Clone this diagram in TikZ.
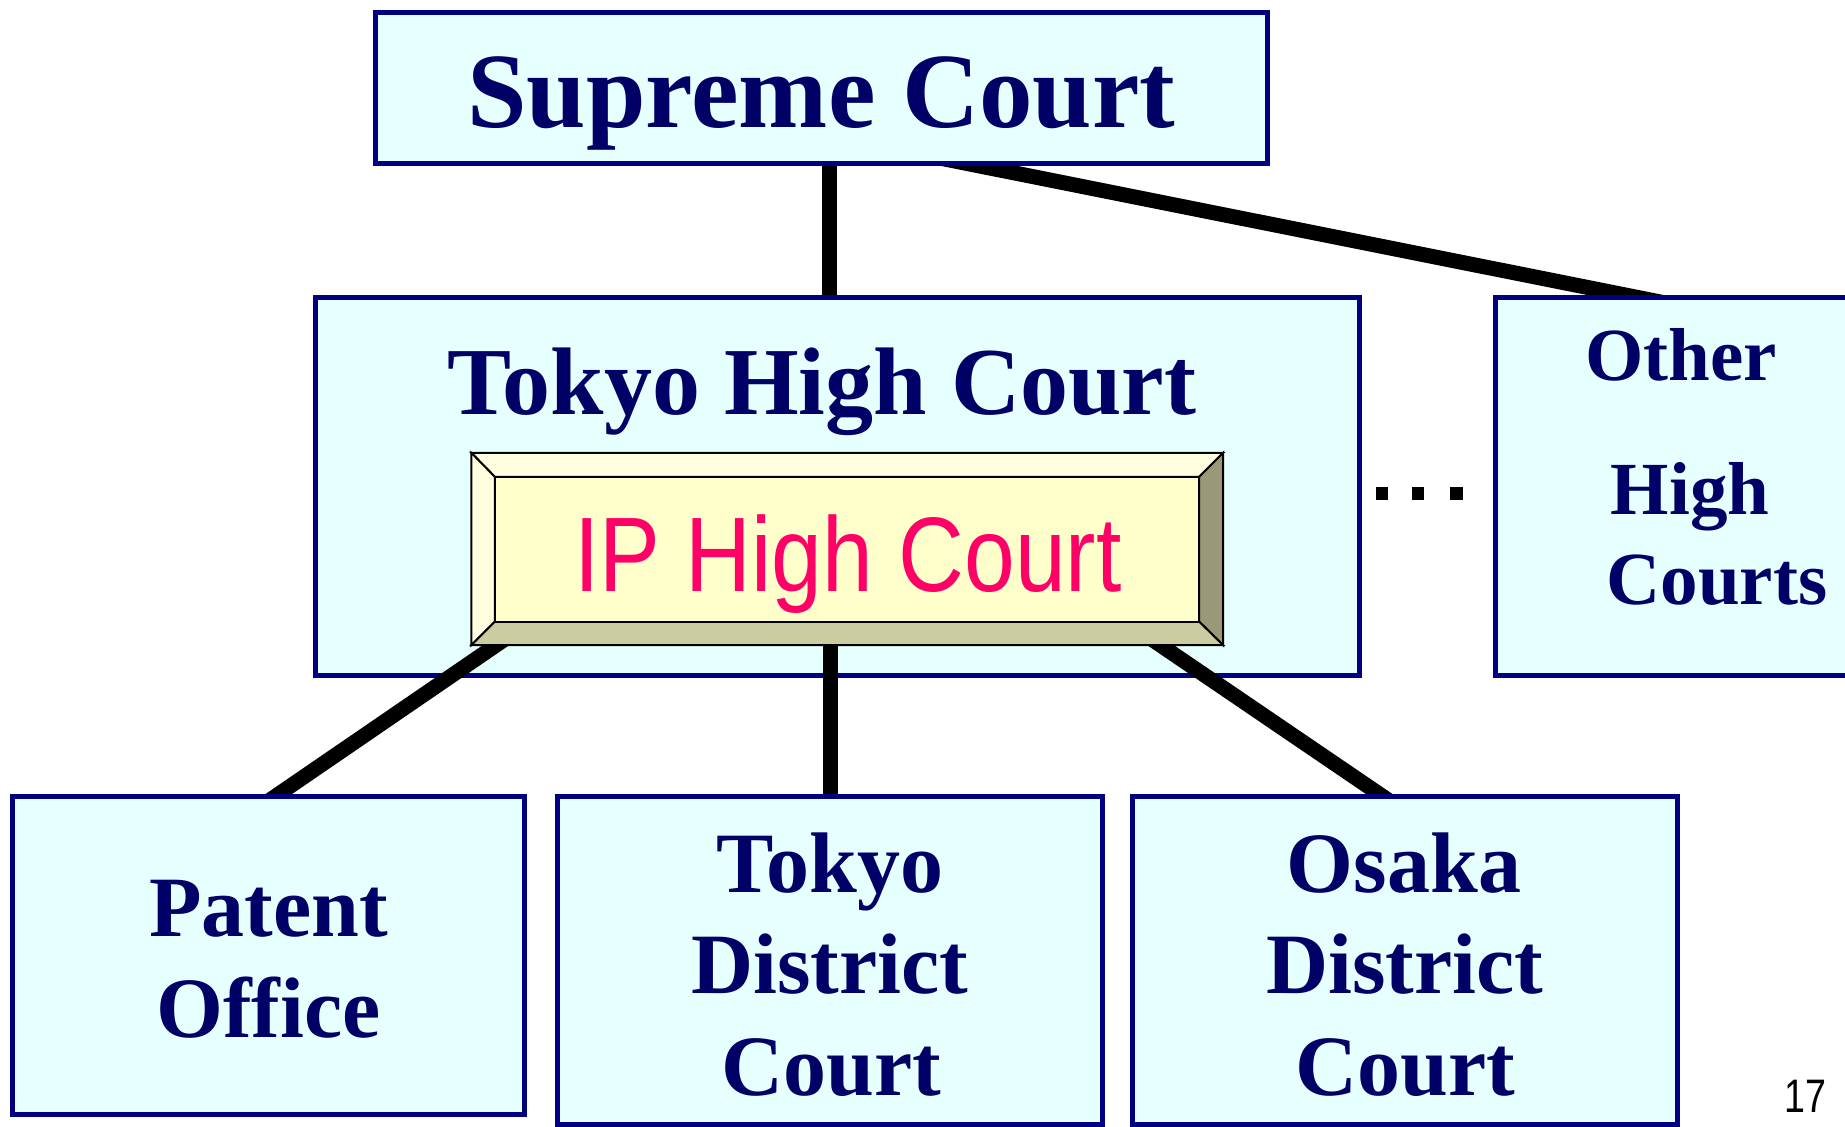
\documentclass[tikz,border=0pt]{standalone}
\usepackage{fontspec}
\setmainfont{Liberation Serif}
\newfontfamily\ipfont{Liberation Sans}
\usetikzlibrary{calc}
\definecolor{navyline}{RGB}{0,0,128}
\definecolor{navytext}{RGB}{0,0,102}
\definecolor{boxfill}{RGB}{230,255,255}
\definecolor{ipface}{RGB}{255,255,204}
\definecolor{iplight}{RGB}{255,255,224}
\definecolor{ipdark}{RGB}{153,153,119}
\definecolor{ipbottom}{RGB}{204,204,163}
\definecolor{ippink}{RGB}{255,0,102}
\pgfdeclarelayer{uplines}
\pgfdeclarelayer{thlayer}
\pgfdeclarelayer{lowlines}
\pgfsetlayers{uplines,thlayer,lowlines,main}
\begin{document}
\begin{tikzpicture}[x=1pt,y=-1pt,
  courtbox/.style={draw=navyline, line width=5pt, fill=boxfill, rectangle, inner sep=0pt},
  conn/.style={draw=black, line width=15pt},
  lbl/.style={anchor=base, inner sep=0pt, text=navytext, font=\bfseries\fontsize{86}{90}\selectfont},
  dotsq/.style={fill=black, minimum size=12.5pt, inner sep=0pt, rectangle},
  bevel/.style={draw=black, line width=2pt, line join=miter}]
\useasboundingbox (0,0) rectangle (1845,1127);
\begin{pgfonlayer}{uplines}
\fill[white] (0,0) rectangle (1845,1127);
\end{pgfonlayer}

% boxes
\node[courtbox, minimum width=892pt, minimum height=151pt] (sc) at (821.5,88) {};
\begin{pgfonlayer}{thlayer}
\node[courtbox, minimum width=1044pt, minimum height=378pt] (th) at (837.5,486.5) {};
\end{pgfonlayer}
\node[courtbox, minimum width=404.5pt, minimum height=378pt] (oh) at (1697.75,486.5) {};
\node[courtbox, minimum width=512pt, minimum height=318pt] (po) at (268.5,955.5) {};
\node[courtbox, minimum width=545pt, minimum height=328pt] (td) at (830,960.5) {};
\node[courtbox, minimum width=545pt, minimum height=328pt] (od) at (1405,960.5) {};

% IP High Court bevelled box
\node[minimum width=751.5pt, minimum height=192pt, inner sep=0pt] (ip) at (847.25,549) {};
\coordinate (i1) at ($(ip.north west)+(23.5,24)$);
\coordinate (i2) at ($(ip.north east)+(-24,24)$);
\coordinate (i3) at ($(ip.south east)+(-24,-23.5)$);
\coordinate (i4) at ($(ip.south west)+(23.5,-23.5)$);
\filldraw[bevel, fill=iplight] (ip.north west) -- (ip.north east) -- (i2) -- (i1) -- cycle;
\filldraw[bevel, fill=iplight] (ip.north west) -- (i1) -- (i4) -- (ip.south west) -- cycle;
\filldraw[bevel, fill=ipdark] (ip.north east) -- (ip.south east) -- (i3) -- (i2) -- cycle;
\filldraw[bevel, fill=ipbottom] (ip.south west) -- (i4) -- (i3) -- (ip.south east) -- cycle;
\filldraw[bevel, fill=ipface] (i1) -- (i2) -- (i3) -- (i4) -- cycle;

% connectors
\begin{pgfonlayer}{uplines}
\draw[conn] ($(sc.south)+(8,-20)$) -- ($(th.north)+(-8,20)$);
\draw[conn] ($(sc.south)+(40.6,-23.5)$) -- ($(oh.north west)+(245,22.5)$);
\end{pgfonlayer}
\begin{pgfonlayer}{lowlines}
\draw[conn] ($(ip.south west)+(46.6,-15)$) -- ($(po.north)+(-16.7,18.5)$);
\draw[conn] ($(ip.south)+(-17.25,-15)$) -- ($(td.north)+(0,18.5)$);
\draw[conn] ($(ip.south east)+(-84.7,-15)$) -- ($(od.north)+(1.4,18.5)$);
\end{pgfonlayer}

% dots
\node[dotsq] (d1) at (1382,493.5) {};
\node[dotsq] (d2) at (1418,493.5) {};
\node[dotsq] (d3) at (1456.5,493.5) {};

% labels
\node[lbl, font=\bfseries\fontsize{107}{110}\selectfont] (tsc) at (821.5,127) {Supreme Court};
\node[lbl, font=\bfseries\fontsize{96}{100}\selectfont] (tth) at (822,414) {Tokyo High Court};
\node[anchor=base, inner sep=0pt, text=ippink, font=\ipfont\fontsize{106}{110}\selectfont] (tip) at (848,591) {\scalebox{0.86}[1]{IP High Court}};
\node[lbl, font=\bfseries\fontsize{75}{80}\selectfont] (toh1) at (1681,380) {Other};
\node[lbl, font=\bfseries\fontsize{75}{80}\selectfont] (toh2) at (1690,514) {High};
\node[lbl, font=\bfseries\fontsize{75}{80}\selectfont] (toh3) at (1717,604) {Courts};
\node[lbl] (tpo1) at (268.5,936) {Patent};
\node[lbl] (tpo2) at (268.5,1037) {Office};
\node[lbl] (ttd1) at (830,892) {Tokyo};
\node[lbl] (ttd2) at (830,993) {District};
\node[lbl] (ttd3) at (831,1095) {Court};
\node[lbl] (tod1) at (1404,892) {Osaka};
\node[lbl] (tod2) at (1405,993) {District};
\node[lbl] (tod3) at (1405.5,1095) {Court};
\node[anchor=base, inner sep=0pt, font=\ipfont\fontsize{47}{50}\selectfont] (pg) at (1805.5,1112) {\scalebox{0.8}[1]{17}};
\end{tikzpicture}
\end{document}
